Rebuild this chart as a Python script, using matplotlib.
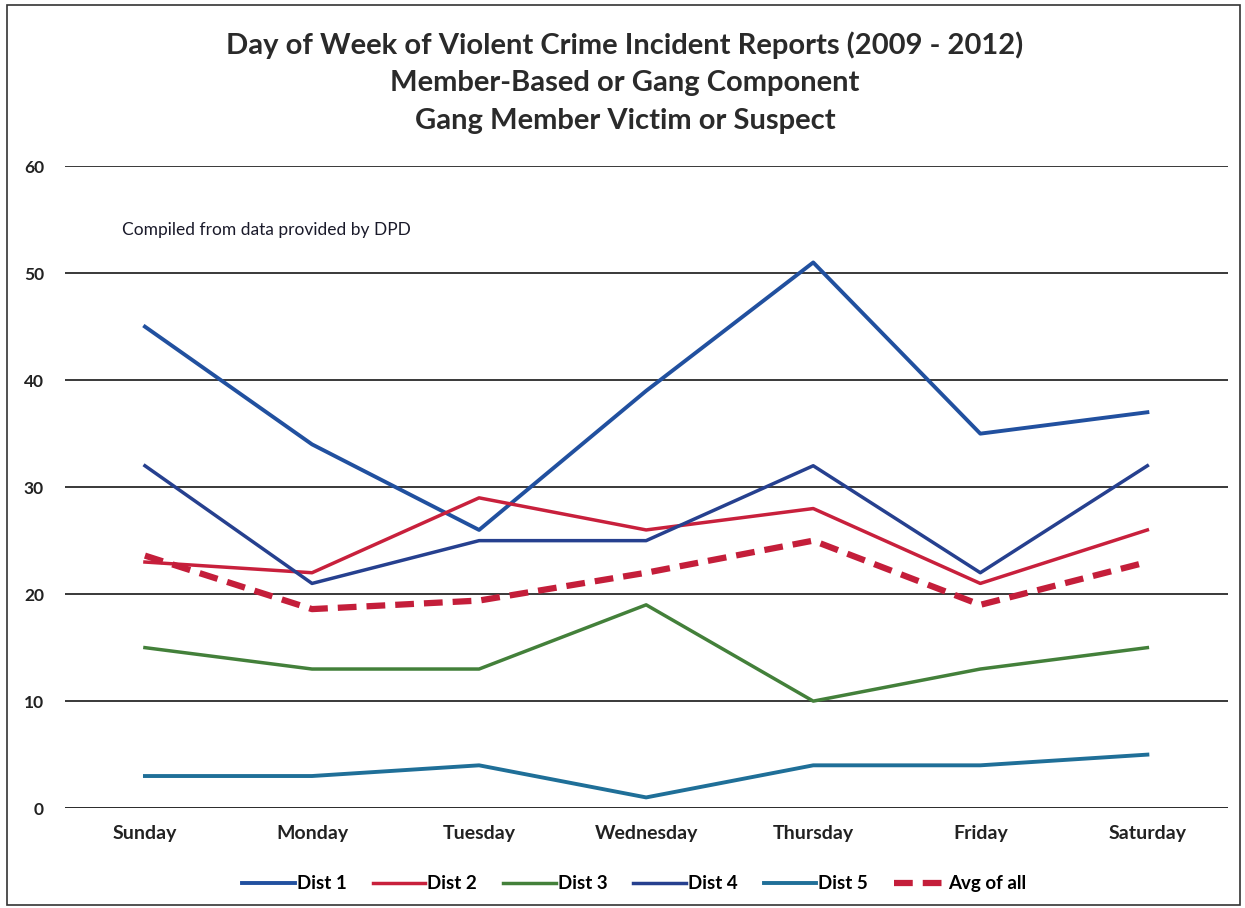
import numpy as np
import matplotlib.pyplot as plt
from matplotlib.patches import Rectangle

# Data ---------------------------------
days = ["Sunday", "Monday", "Tuesday", "Wednesday", "Thursday", "Friday", "Saturday"]
dist1 = [45, 34, 26, 39, 51, 35, 37]
dist2 = [23, 22, 29, 26, 28, 21, 26]
dist3 = [15, 13, 13, 19, 10, 13, 15]
dist4 = [32, 21, 25, 25, 32, 22, 32]
dist5 = [3, 3, 4, 1, 4, 4, 5]
avg_all = [23.6, 18.6, 19.4, 22.0, 25.0, 19.0, 23.0]

y_ticks = [0, 10, 20, 30, 40, 50, 60]

plt.rcParams['font.family'] = ['Lato', 'DejaVu Sans']

fig = plt.figure(figsize=(12.45, 9.08), dpi=100)
ax = fig.add_axes([0.052, 0.110, 0.934, 0.707])

x = np.arange(len(days))

# Lines
ax.plot(x, dist1, color='#21509f', lw=2.8, label='Dist 1', zorder=3)
ax.plot(x, dist2, color='#c8203c', lw=2.5, label='Dist 2', zorder=3)
ax.plot(x, dist3, color='#43803a', lw=2.5, label='Dist 3', zorder=3)
ax.plot(x, dist4, color='#26408f', lw=2.5, label='Dist 4', zorder=3)
ax.plot(x, dist5, color='#1f6f98', lw=2.8, label='Dist 5', zorder=3)
ax.plot(x, avg_all, color='#c41e3a', lw=4.5, ls=(0, (3, 1.6)), label='Avg of all', zorder=4)

# Axes setup
ax.set_xlim(-0.48, 6.48)
ax.set_ylim(0, 60)
ax.set_yticks(y_ticks)
ax.set_yticklabels([str(t) for t in y_ticks], fontsize=12.5, fontweight='bold', color='#222222')
ax.set_xticks(x)
ax.set_xticklabels(days, fontsize=14, fontweight='bold', color='#222222')
ax.tick_params(axis='both', length=0)
ax.tick_params(axis='y', pad=15)
ax.tick_params(axis='x', pad=12)
ax.yaxis.grid(True, color='#2a2a2a', lw=1.3)
ax.set_axisbelow(True)
for s in ax.spines.values():
    s.set_visible(False)
ax.axhline(0, color='#2a2a2a', lw=1.8, zorder=1)

# Title and note
title_lines = ["Day of Week of Violent Crime Incident Reports (2009 - 2012)",
               "Member-Based or Gang Component",
               "Gang Member Victim or Suspect"]
for line, yy in zip(title_lines, [0.950, 0.909, 0.867]):
    fig.text(0.502, yy, line, ha='center', va='center', fontsize=21,
             fontweight='bold', color='#2a2a2a')
ax.text(0.049, 0.900, "Compiled from data provided by DPD", transform=ax.transAxes,
        fontsize=12.5, color='#1a1a2a', va='center')

# Legend
ax.legend(loc='upper center', bbox_to_anchor=(0.49, -0.078), ncol=6, frameon=False,
          prop={'weight': 'bold', 'size': 13.5}, handlelength=2.8, handletextpad=0.1,
          columnspacing=1.4)

# Chart border
fig.patches.append(Rectangle((0.006, 0.003), 0.99, 0.991, transform=fig.transFigure,
                             fill=False, edgecolor='#333333', lw=1.2))

fig.savefig('out.png', dpi=100)
